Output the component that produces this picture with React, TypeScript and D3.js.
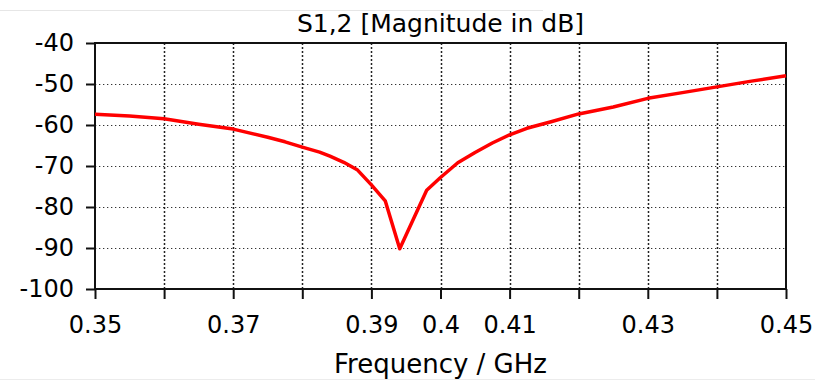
import React, { useRef, useEffect } from "react";
import * as d3 from "d3";

// S1,2 magnitude
const freqGHz = [
  0.35, 0.355, 0.36, 0.365, 0.37, 0.375, 0.3775, 0.38, 0.3825, 0.384, 0.386,
  0.388, 0.39, 0.392, 0.3941, 0.398, 0.4, 0.4025, 0.405, 0.4075, 0.41, 0.4125,
  0.416, 0.42, 0.425, 0.43, 0.435, 0.44, 0.445, 0.45,
];
const s12dB = [
  -57.4, -57.8, -58.5, -59.8, -61.0, -63.0, -64.1, -65.4, -66.6, -67.6, -69.1,
  -71.0, -74.6, -78.5, -90.2, -75.9, -72.8, -69.2, -66.7, -64.4, -62.4, -60.8,
  -59.2, -57.3, -55.6, -53.5, -52.1, -50.7, -49.3, -48.0,
];
const xTicks = [0.35, 0.36, 0.37, 0.38, 0.39, 0.4, 0.41, 0.42, 0.43, 0.44, 0.45];
const xLabelled = ["0.35", "0.37", "0.39", "0.4", "0.41", "0.43", "0.45"];
const yTicks = [-40, -50, -60, -70, -80, -90, -100];

const W = 821;
const H = 382;

const App = () => {
  const svgRef = useRef<SVGSVGElement>(null);

  useEffect(() => {
    const svg = d3.select(svgRef.current);
    svg.selectAll("*").remove();

    const left = 95;
    const right = 786;
    const top = 43;
    const bottom = 289;
    const font = "'DejaVu Sans', Verdana, sans-serif";

    const x = d3.scaleLinear().domain([0.35, 0.45]).range([left, right]);
    const y = d3.scaleLinear().domain([-100, -40]).range([bottom, top]);

    // faint window lines
    svg.append("line").attr("x1", 0).attr("x2", 543).attr("y1", 10.5).attr("y2", 10.5)
      .attr("stroke", "#e6e6e6").attr("stroke-width", 1);
    svg.append("line").attr("x1", 0).attr("x2", 815).attr("y1", 379.5).attr("y2", 379.5)
      .attr("stroke", "#ececec").attr("stroke-width", 1);

    // grid
    svg.append("g")
      .selectAll("line")
      .data(yTicks.slice(1, -1))
      .join("line")
      .attr("x1", left)
      .attr("x2", right)
      .attr("y1", (d) => Math.round(y(d)) + 0.5)
      .attr("y2", (d) => Math.round(y(d)) + 0.5)
      .attr("stroke", "#333")
      .attr("stroke-width", 1.2)
      .attr("stroke-dasharray", "1.3,2.7");

    svg.append("g")
      .selectAll("line")
      .data(xTicks.slice(1, -1))
      .join("line")
      .attr("x1", (d) => Math.round(x(d)) + 0.5)
      .attr("x2", (d) => Math.round(x(d)) + 0.5)
      .attr("y1", top)
      .attr("y2", bottom)
      .attr("stroke", "#222")
      .attr("stroke-width", 1.5)
      .attr("stroke-dasharray", "2,2");

    // frame
    svg.append("rect")
      .attr("x", left)
      .attr("y", top)
      .attr("width", right - left)
      .attr("height", bottom - top)
      .attr("fill", "none")
      .attr("stroke", "#111")
      .attr("stroke-width", 2);

    // y axis
    const yAxis = d3.axisLeft(y).tickValues(yTicks).tickSize(9).tickPadding(12)
      .tickFormat((d) => `${d}`);
    const yg = svg.append("g").attr("transform", `translate(${left},0)`).call(yAxis);
    yg.select(".domain").remove();
    yg.selectAll(".tick line").attr("stroke", "#111").attr("stroke-width", 2);
    yg.selectAll(".tick text")
      .attr("fill", "#000")
      .style("font-family", font)
      .style("font-size", "24px");

    // x axis
    const xAxis = d3.axisBottom(x).tickValues(xTicks).tickSize(10).tickPadding(17)
      .tickFormat((d) => {
        const s = d3.format(".2~f")(d as number);
        return xLabelled.includes(s) ? s : "";
      });
    const xg = svg.append("g").attr("transform", `translate(0,${bottom})`).call(xAxis);
    xg.select(".domain").remove();
    xg.selectAll(".tick line").attr("stroke", "#111").attr("stroke-width", 2);
    xg.selectAll(".tick text")
      .attr("fill", "#000")
      .style("font-family", font)
      .style("font-size", "24px");

    // curve
    const line = d3.line<number>()
      .x((d, i) => x(freqGHz[i]))
      .y((d) => y(d));
    svg.append("path")
      .datum(s12dB)
      .attr("d", line)
      .attr("fill", "none")
      .attr("stroke", "#ff0000")
      .attr("stroke-width", 3.5)
      .attr("stroke-linejoin", "round");

    // titles
    svg.append("text")
      .attr("x", (left + right) / 2)
      .attr("y", 32)
      .attr("text-anchor", "middle")
      .attr("fill", "#000")
      .style("font-family", font)
      .style("font-size", "25px")
      .text("S1,2 [Magnitude in dB]");

    svg.append("text")
      .attr("x", (left + right) / 2)
      .attr("y", 373)
      .attr("text-anchor", "middle")
      .attr("fill", "#000")
      .style("font-family", font)
      .style("font-size", "26px")
      .text("Frequency / GHz");
  }, []);

  return (
    <div style={{ position: "fixed", left: 0, top: 0, width: W, height: H, background: "#fff" }}>
      <svg ref={svgRef} width={W} height={H}></svg>
    </div>
  );
};

export default App;
